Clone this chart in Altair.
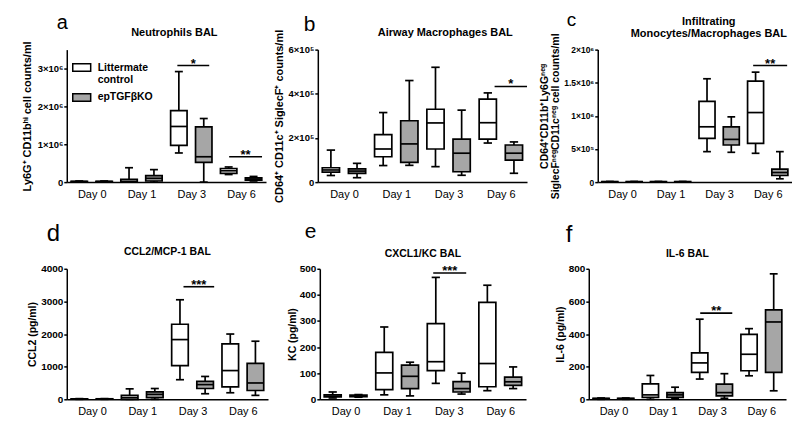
import json
import altair as alt
import pandas as pd

FONT = "Liberation Sans"
DAYS = ["Day 0", "Day 1", "Day 3", "Day 6"]
GROUPS = ["Littermate control", "epTGFβKO"]
FILLS = ["#ffffff", "#a6a6a6"]

# five-number summaries per day: [min, q1, median, q3, max]
NEU_LM = [[5e3, 1e4, 1.5e4, 2e4, 3e4], [0, 0, 2e4, 7e4, 3.8e5], [7.7e5, 9.7e5, 1.47e6, 1.89e6, 2.92e6], [2.0e5, 2.3e5, 3.0e5, 3.6e5, 4.0e5]]
NEU_KO = [[5e3, 1e4, 1.5e4, 2e4, 3e4], [0, 3e4, 1.0e5, 1.7e5, 3.3e5], [0, 5.2e5, 6.7e5, 1.46e6, 1.68e6], [3e4, 5e4, 8e4, 1.1e5, 1.5e5]]
NEU_SIG_X1 = [1.72, 2.76]
NEU_SIG_X2 = [2.36, 3.42]
NEU_SIG_Y = [3.08e6, 6.7e5]
NEU_SIG_T = ["*", "**"]

AM_LM = [[3.0e4, 4.5e4, 5.5e4, 6.5e4, 1.45e5], [7.5e4, 1.15e5, 1.5e5, 2.15e5, 3.15e5], [7.0e4, 1.5e5, 2.68e5, 3.3e5, 5.2e5], [1.77e5, 1.95e5, 2.69e5, 3.76e5, 4.04e5]]
AM_KO = [[2.0e4, 4.0e4, 5.0e4, 6.0e4, 8.5e4], [7.6e4, 8.9e4, 1.73e5, 2.78e5, 4.6e5], [3.1e4, 4.7e4, 1.31e5, 1.95e5, 3.26e5], [4.0e4, 1.0e5, 1.31e5, 1.68e5, 1.82e5]]
AM_SIG_X1 = [2.88]
AM_SIG_X2 = [3.5]
AM_SIG_Y = [4.33e5]
AM_SIG_T = ["*"]

MO_LM = [[0, 3e3, 5e3, 8e3, 1e4], [0, 3e3, 5e3, 8e3, 1e4], [4.6e5, 6.6e5, 8.35e5, 1.22e6, 1.56e6], [4.35e5, 5.85e5, 1.05e6, 1.525e6, 1.66e6]]
MO_KO = [[0, 3e3, 5e3, 8e3, 1e4], [0, 3e3, 5e3, 8e3, 1e4], [4.5e5, 5.6e5, 6.45e5, 8.35e5, 9.85e5], [5e4, 1.0e5, 1.45e5, 1.95e5, 4.6e5]]
MO_SIG_X1 = [2.70]
MO_SIG_X2 = [3.40]
MO_SIG_Y = [1.76e6]
MO_SIG_T = ["**"]

CCL2_LM = [[0, 5, 10, 15, 20], [0, 0, 50, 120, 320], [600, 1030, 1830, 2300, 3050], [200, 380, 880, 1700, 2000]]
CCL2_KO = [[0, 5, 10, 15, 20], [0, 50, 150, 230, 330], [170, 330, 450, 550, 700], [120, 270, 500, 1100, 1780]]
CCL2_SIG_X1 = [1.82]
CCL2_SIG_X2 = [2.43]
CCL2_SIG_Y = [3450]
CCL2_SIG_T = ["***"]

KC_LM = [[5, 9, 12, 17, 28], [17, 37, 101, 180, 277], [61, 110, 144, 290, 467], [33, 48, 137, 371, 437]]
KC_KO = [[8, 10, 13, 16, 18], [13, 41, 88, 131, 142], [20, 28, 41, 68, 100], [41, 53, 67, 85, 124]]
KC_SIG_X1 = [1.70]
KC_SIG_X2 = [2.34]
KC_SIG_Y = [484]
KC_SIG_T = ["***"]

IL6_LM = [[0, 2, 4, 6, 8], [0, 12, 27, 95, 146], [124, 165, 223, 285, 491], [144, 175, 276, 398, 433]]
IL6_KO = [[0, 2, 4, 6, 8], [6, 12, 27, 41, 74], [6, 21, 41, 93, 157], [52, 165, 474, 548, 769]]
IL6_SIG_X1 = [1.76]
IL6_SIG_X2 = [2.41]
IL6_SIG_Y = [528]
IL6_SIG_T = ["**"]

SW = 1.7


def boxes(lm, ko):
    rows = []
    for g, series, off in [(GROUPS[0], lm, -0.25), (GROUPS[1], ko, 0.25)]:
        for i, s in enumerate(series):
            rows.append({"group": g, "pos": i + off, "mn": s[0], "q1": s[1],
                         "med": s[2], "q3": s[3], "mx": s[4]})
    return pd.DataFrame(rows)


def panel(lm, ko, sx1, sx2, sy, st, ymax, yvals, ylabexpr, yfmt, ytitle,
          letter, title, w, h, ext, tpad, lx, ly, lsize, tdx, ty, tsize,
          ylabsize, ytsize=10.5, legend=False, spacer=None):
    df = boxes(lm, ko)
    xs = alt.Scale(domain=[-0.5, 3.5], nice=False, zero=False)
    ys = alt.Scale(domain=[0, ymax], nice=False, zero=False)
    xaxis = alt.Axis(values=[0, 1, 2, 3], labelExpr=json.dumps(DAYS) + "[datum.value]",
                     tickSize=0, labelPadding=6, labelFontSize=11, labelFont=FONT,
                     labelColor="black", domainColor="black", domainWidth=1.5,
                     grid=False, title=None)
    yargs = dict(values=yvals, tickSize=3, tickWidth=1.5, tickColor="black",
                 domainColor="black", domainWidth=1.5, labelFontSize=ylabsize,
                 labelFontWeight="bold", labelFont=FONT, labelColor="black",
                 labelPadding=1, grid=False, title=ytitle, titleFont=FONT,
                 titleFontSize=ytsize, titleFontWeight="bold", titleColor="black",
                 titlePadding=tpad, minExtent=ext, maxExtent=ext, titleLineHeight=11.5)
    if ylabexpr:
        yargs["labelExpr"] = ylabexpr
    if yfmt:
        yargs["format"] = yfmt
    yaxis = alt.Axis(**yargs)

    def X(f):
        return alt.X(f + ":Q", scale=xs, axis=xaxis)

    def Y(f):
        return alt.Y(f + ":Q", scale=ys, axis=yaxis)

    if legend:
        leg = alt.Legend(orient="none", legendX=5, legendY=8, title=None,
                         symbolType="M-1,-0.42H1V0.42H-1Z", symbolSize=324,
                         symbolStrokeColor="black", symbolStrokeWidth=1.5,
                         symbolOpacity=1, labelFont=FONT, labelFontSize=10.5,
                         labelFontWeight="bold", labelColor="black", labelOffset=6,
                         rowPadding=2,
                         labelExpr="datum.label == 'Littermate control' ? ['Littermate', 'control'] : datum.label")
    else:
        leg = None
    fill = alt.Fill("group:N", scale=alt.Scale(domain=GROUPS, range=FILLS), legend=leg)

    base = alt.Chart(df)
    whisk = base.mark_rule(color="black", strokeWidth=SW).encode(x=X("pos"), y=Y("mn"), y2="mx")
    caps = base.transform_calculate(clo="datum.pos - 0.08", chi="datum.pos + 0.08")
    cap_hi = caps.mark_rule(color="black", strokeWidth=SW).encode(x=X("clo"), x2="chi", y=Y("mx"))
    cap_lo = caps.mark_rule(color="black", strokeWidth=SW).encode(x=X("clo"), x2="chi", y=Y("mn"))
    bx = base.transform_calculate(lo="datum.pos - 0.165", hi="datum.pos + 0.165")
    box = bx.mark_rect(stroke="black", strokeWidth=SW).encode(x=X("lo"), x2="hi", y=Y("q1"), y2="q3", fill=fill)
    med = bx.mark_rule(color="black", strokeWidth=SW).encode(x=X("lo"), x2="hi", y=Y("med"))

    sig = alt.Chart(pd.DataFrame({"x1": sx1, "x2": sx2, "lvl": sy, "stars": st})).transform_calculate(
        xm="(datum.x1 + datum.x2) / 2")
    sig_rule = sig.mark_rule(color="black", strokeWidth=1.6).encode(x=X("x1"), x2="x2", y=Y("lvl"))
    sig_txt = sig.mark_text(font=FONT, fontSize=13, fontWeight="bold", baseline="alphabetic",
                            dy=2, color="black").encode(x=X("xm"), y=Y("lvl"), text="stars:N")

    ann = alt.Chart(pd.DataFrame({"letter": [letter], "title": [title]}))
    let = ann.mark_text(align="left", baseline="alphabetic", font=FONT, fontSize=lsize,
                        color="black").encode(x=alt.value(lx), y=alt.value(ly), text="letter:N")
    tit = ann.mark_text(align="center", baseline="alphabetic", font=FONT, fontSize=tsize,
                        fontWeight="bold", lineBreak="\n", lineHeight=12, color="black").encode(
        x=alt.value(w / 2 + tdx), y=alt.value(ty), text="title:N")
    layers = [whisk, cap_hi, cap_lo, box, med, sig_rule, sig_txt, let, tit]
    if spacer is not None:
        sp = ann.mark_text(opacity=0, fontSize=8).encode(x=alt.value(spacer), y=alt.value(10),
                                                         text=alt.value("."))
        layers.append(sp)
    return alt.layer(*layers).properties(width=w, height=h)


expr6 = "datum.value == 0 ? '0' : format(datum.value / 1e6, '') + '×10⁶'"
expr5 = "datum.value == 0 ? '0' : format(datum.value / 1e5, '') + '×10⁵'"
expr56 = ("datum.value == 0 ? '0' : datum.value < 1e6 ? format(datum.value / 1e5, '') + '×10⁵'"
          " : format(datum.value / 1e6, '') + '×10⁶'")

pa = panel(NEU_LM, NEU_KO, NEU_SIG_X1, NEU_SIG_X2, NEU_SIG_Y, NEU_SIG_T, 3.5e6,
           [0, 1e6, 2e6, 3e6], expr6, None, "Ly6G⁺ CD11bʰⁱ cell counts/ml",
           "a", "Neutrophils BAL", 200, 133, 29, 5, -10, -21, 20, 8, -14, 11, 9.5,
           ytsize=11, legend=True)
pb = panel(AM_LM, AM_KO, AM_SIG_X1, AM_SIG_X2, AM_SIG_Y, AM_SIG_T, 6e5,
           [0, 2e5, 4e5, 6e5], expr5, None, "CD64⁺ CD11c⁺ SiglecF⁺ counts/ml",
           "b", "Airway Macrophages BAL", 210, 133, 28, 5, -14, -19, 21, 23, -14, 11, 9.5,
           ytsize=11)
pc = panel(MO_LM, MO_KO, MO_SIG_X1, MO_SIG_X2, MO_SIG_Y, MO_SIG_T, 2e6,
           [0, 5e5, 1e6, 1.5e6, 2e6], expr56, None,
           ["CD64⁺CD11b⁺Ly6Gⁿᵉᵍ", "SiglecFⁿᵉᵍCD11cⁿᵉᵍ cell counts/ml"],
           "c", "Infiltrating\nMonocytes/Macrophages BAL", 195, 133, 29, 8, -31, -24, 19, 14, -25, 11, 8.5)
pd_ = panel(CCL2_LM, CCL2_KO, CCL2_SIG_X1, CCL2_SIG_X2, CCL2_SIG_Y, CCL2_SIG_T, 4000,
            [0, 1000, 2000, 3000, 4000], None, "d", "CCL2 (pg/ml)",
            "d", "CCL2/MCP-1 BAL", 202, 131, 27, 2, -20, -28, 24, 0, -14, 10.5, 10, spacer=-53)
pe = panel(KC_LM, KC_KO, KC_SIG_X1, KC_SIG_X2, KC_SIG_Y, KC_SIG_T, 500,
           [0, 100, 200, 300, 400, 500], None, "d", "KC (pg/ml)",
           "e", "CXCL1/KC BAL", 207, 131, 21, 1, -15, -31, 21, 0, -12, 10.5, 10)
pf = panel(IL6_LM, IL6_KO, IL6_SIG_X1, IL6_SIG_X2, IL6_SIG_Y, IL6_SIG_T, 800,
           [0, 200, 400, 600, 800], None, "d", "IL-6 (pg/ml)",
           "f", "IL-6 BAL", 198, 131, 21, 2, -23, -27, 24, 0, -12, 10.5, 10)

row1 = alt.hconcat(pa, alt.hconcat(pb, pc, spacing=11).resolve_scale(fill="independent"),
                   spacing=7).resolve_scale(fill="independent")
row2 = alt.hconcat(pd_, alt.hconcat(pe, pf, spacing=30).resolve_scale(fill="independent"),
                   spacing=20).resolve_scale(fill="independent")
chart = alt.vconcat(row1, row2, spacing=18).resolve_scale(fill="independent").properties(
    padding={"left": 4, "top": 2, "right": 0, "bottom": 0}, background="white"
).configure_view(stroke=None)

chart.save("out.html", embed_options={"renderer": "svg", "actions": False})
